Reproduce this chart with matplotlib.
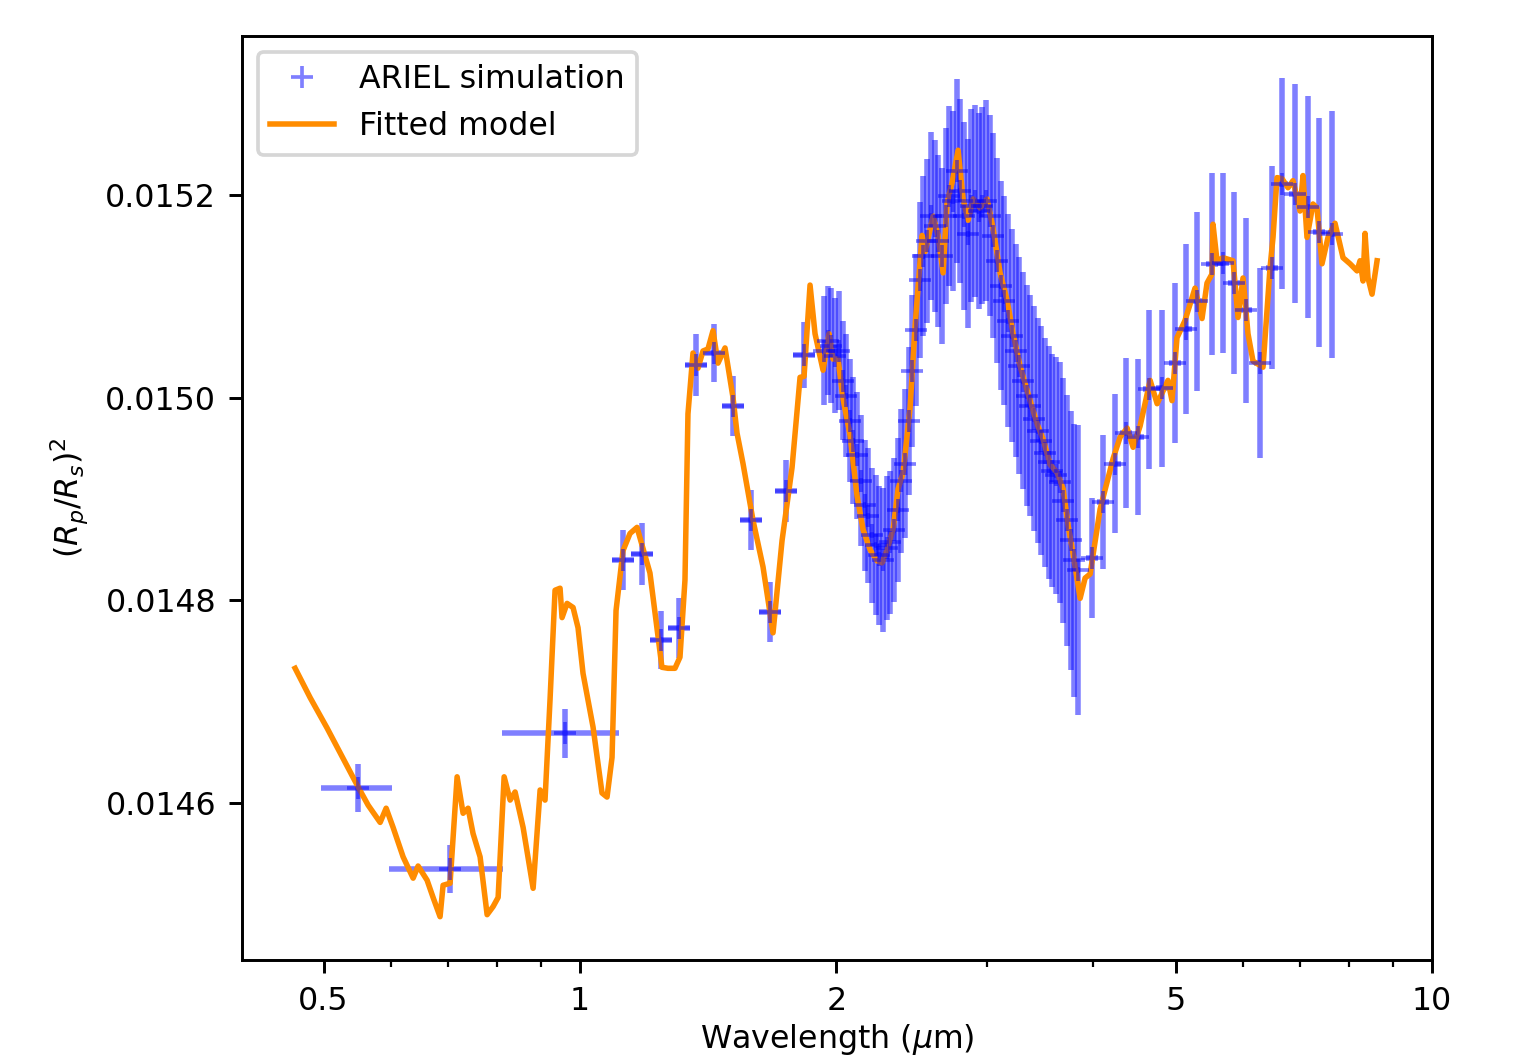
import numpy as np
import matplotlib
matplotlib.use('Agg')
import matplotlib.pyplot as plt
from matplotlib.lines import Line2D
from matplotlib.ticker import FixedLocator, FixedFormatter, NullFormatter, FormatStrFormatter

# ARIEL simulated spectrum, low resolution points (FGS + NIRSpec): wavelength, half bin width, depth, error
low_wl = [0.549, 0.704, 0.960, 1.123, 1.182, 1.245, 1.307, 1.368, 1.437, 1.512, 1.587, 1.671, 1.745, 1.832]
low_dwl = [0.052, 0.108, 0.150, 0.033, 0.035, 0.037, 0.038, 0.040, 0.042, 0.044, 0.047, 0.049, 0.051, 0.054]
low_depth = [0.014615, 0.014535, 0.014669, 0.014840, 0.014846, 0.014761, 0.014773, 0.015032,
             0.015044, 0.014992, 0.014879, 0.014789, 0.014908, 0.015042]
low_err = [2.4e-5, 2.4e-5, 2.4e-5, 2.96e-5, 3.05e-5, 2.86e-5, 2.96e-5, 3.05e-5,
           2.86e-5, 2.96e-5, 2.96e-5, 2.96e-5, 3.05e-5, 3.25e-5]

# AIRS channel 0 (R ~ 100)
R_ch0 = 100
ch0_wl = [1.934, 1.953, 1.973, 1.993, 2.013, 2.033, 2.053, 2.074, 2.094, 2.115,
          2.136, 2.158, 2.179, 2.201, 2.223, 2.245, 2.268, 2.290, 2.313, 2.336,
          2.360, 2.383, 2.407, 2.431, 2.455, 2.480, 2.505, 2.530, 2.555, 2.581,
          2.607, 2.633, 2.659, 2.686, 2.712, 2.740, 2.767, 2.795, 2.823, 2.851,
          2.879, 2.908, 2.937, 2.967, 2.996, 3.026, 3.057, 3.087, 3.118, 3.149,
          3.181, 3.213, 3.245, 3.277, 3.310, 3.343, 3.377, 3.410, 3.444, 3.479,
          3.514, 3.549, 3.584, 3.620, 3.656, 3.693, 3.730, 3.767, 3.805, 3.843]
ch0_depth = [0.0150463, 0.0150562, 0.0150512, 0.0150414, 0.0150463, 0.0150167, 0.0150020, 0.0149773, 0.0149576, 0.0149429,
             0.0149182, 0.0148936, 0.0148837, 0.0148640, 0.0148542, 0.0148443, 0.0148394, 0.0148512, 0.0148571, 0.0148690,
             0.0148887, 0.0149182, 0.0149350, 0.0149773, 0.0150266, 0.0150670, 0.0151163, 0.0151399, 0.0151547, 0.0151793,
             0.0151695, 0.0151547, 0.0151399, 0.0151793, 0.0151990, 0.0151941, 0.0152236, 0.0152039, 0.0151793, 0.0151616,
             0.0151892, 0.0151941, 0.0151842, 0.0151892, 0.0151941, 0.0151793, 0.0151596, 0.0151350, 0.0151103, 0.0150956,
             0.0150759, 0.0150611, 0.0150463, 0.0150315, 0.0150167, 0.0150020, 0.0149921, 0.0149793, 0.0149675, 0.0149576,
             0.0149458, 0.0149360, 0.0149281, 0.0149232, 0.0149163, 0.0148985, 0.0148788, 0.0148591, 0.0148394, 0.0148296]
ch0_err = [5.4e-5, 5.4e-5, 5.7e-5, 5.7e-5, 5.9e-5, 5.9e-5, 6.1e-5, 6.1e-5, 6.3e-5, 6.3e-5,
           6.5e-5, 6.5e-5, 6.7e-5, 6.7e-5, 6.9e-5, 6.9e-5, 7.1e-5, 7.1e-5, 7.1e-5, 7.1e-5,
           7.1e-5, 7.1e-5, 7.3e-5, 7.3e-5, 7.5e-5, 7.5e-5, 7.7e-5, 7.9e-5, 8.1e-5, 8.3e-5,
           8.5e-5, 8.5e-5, 8.7e-5, 8.7e-5, 8.9e-5, 8.9e-5, 9.1e-5, 9.1e-5, 9.3e-5, 9.3e-5,
           9.5e-5, 9.5e-5, 9.7e-5, 9.7e-5, 9.9e-5, 9.9e-5, 1.01e-4, 1.01e-4, 1.03e-4, 1.03e-4,
           1.05e-4, 1.05e-4, 1.05e-4, 1.07e-4, 1.07e-4, 1.09e-4, 1.09e-4, 1.11e-4, 1.11e-4, 1.13e-4,
           1.13e-4, 1.15e-4, 1.15e-4, 1.17e-4, 1.19e-4, 1.21e-4, 1.24e-4, 1.28e-4, 1.35e-4, 1.43e-4]

# AIRS channel 1 (R ~ 30)
R_ch1 = 30
ch1_wl = [3.990, 4.111, 4.246, 4.374, 4.518, 4.654, 4.822, 4.994, 5.144, 5.300, 5.519,
          5.685, 5.856, 6.049, 6.282, 6.489, 6.667, 6.906, 7.154, 7.370, 7.633]
ch1_depth = [0.014842, 0.014897, 0.014935, 0.014965, 0.014961, 0.015008, 0.015009, 0.015034, 0.015068, 0.015095, 0.015132,
             0.015133, 0.015113, 0.015086, 0.015034, 0.015128, 0.015211, 0.015201, 0.015188, 0.015163, 0.015161]
ch1_err = [5.9e-5, 6.6e-5, 6.9e-5, 7.4e-5, 7.7e-5, 7.8e-5, 7.7e-5, 7.9e-5, 8.4e-5, 8.8e-5, 9.0e-5,
           8.9e-5, 9.0e-5, 9.1e-5, 9.4e-5, 1.00e-4, 1.04e-4, 1.08e-4, 1.09e-4, 1.13e-4, 1.22e-4]

# fitted model spectrum
model_wl = [0.4630, 0.4822, 0.5048, 0.5271, 0.5489, 0.5640, 0.5826, 0.5921, 0.6034, 0.6199,
            0.6369, 0.6455, 0.6614, 0.6722, 0.6850, 0.6906, 0.7038, 0.7173, 0.7290, 0.7389,
            0.7489, 0.7633, 0.7779, 0.7906, 0.8014, 0.8145, 0.8278, 0.8390, 0.8574, 0.8809,
            0.8977, 0.9097, 0.9221, 0.9347, 0.9474, 0.9525, 0.9655, 0.9813, 0.9946, 1.0081,
            1.0358, 1.0612, 1.0757, 1.0903, 1.1022, 1.1231, 1.1446, 1.1665, 1.2080, 1.2478,
            1.2683, 1.2925, 1.3101, 1.3279, 1.3387, 1.3570, 1.3754, 1.3942, 1.4131, 1.4324,
            1.4519, 1.4797, 1.5120, 1.5285, 1.5534, 1.5960, 1.6398, 1.6847, 1.7263, 1.7736,
            1.8124, 1.8321, 1.8620, 1.8873, 1.9286, 1.9601, 1.9814, 2.0084, 2.0357, 2.0745,
            2.1142, 2.1488, 2.1899, 2.2318, 2.2622, 2.2930, 2.3305, 2.3623, 2.3944, 2.4401,
            2.4733, 2.5205, 2.5410, 2.5966, 2.6319, 2.6677, 2.6967, 2.7334, 2.7780, 2.8158,
            2.8541, 2.8929, 2.9482, 3.0046, 3.0537, 3.1121, 3.1715, 3.2234, 3.2850, 3.3478,
            3.4395, 3.4958, 3.5625, 3.6306, 3.6900, 3.7402, 3.7911, 3.8635, 3.9161, 3.9693,
            4.0781, 4.1672, 4.2240, 4.3047, 4.3869, 4.4586, 4.5438, 4.6684, 4.7576, 4.8991,
            4.9525, 5.0199, 5.1296, 5.2706, 5.3713, 5.4443, 5.5183, 5.5332, 5.5933, 5.6848,
            5.8406, 5.9200, 6.0005, 6.0821, 6.1648, 6.3338, 6.4549, 6.5074, 6.5782, 6.6675,
            6.7766, 6.8685, 6.9997, 7.0566, 7.1334, 7.2500, 7.3288, 7.4286, 7.5501, 7.6946,
            7.8628, 8.0136, 8.1666, 8.2330, 8.3000, 8.3450, 8.4129, 8.5044, 8.6205]
model_depth = [0.014733, 0.014704, 0.014674, 0.014644, 0.014616, 0.014598, 0.014581, 0.014595, 0.014576, 0.014547,
               0.014526, 0.014538, 0.014524, 0.014507, 0.014488, 0.014519, 0.014521, 0.014626, 0.014590, 0.014595,
               0.014570, 0.014547, 0.014490, 0.014498, 0.014507, 0.014626, 0.014603, 0.014611, 0.014576, 0.014516,
               0.014613, 0.014603, 0.014702, 0.014810, 0.014812, 0.014783, 0.014797, 0.014793, 0.014773, 0.014728,
               0.014675, 0.014610, 0.014606, 0.014645, 0.014790, 0.014849, 0.014866, 0.014872, 0.014827, 0.014734,
               0.014733, 0.014733, 0.014744, 0.014820, 0.014984, 0.015044, 0.015029, 0.015046, 0.015048, 0.015066,
               0.015034, 0.015049, 0.015000, 0.014965, 0.014935, 0.014879, 0.014833, 0.014768, 0.014859, 0.014931,
               0.015020, 0.015021, 0.015111, 0.015063, 0.015027, 0.015063, 0.015038, 0.015038, 0.014999, 0.014963,
               0.014903, 0.014870, 0.014850, 0.014839, 0.014837, 0.014850, 0.014870, 0.014910, 0.014926, 0.014990,
               0.015071, 0.015160, 0.015144, 0.015179, 0.015160, 0.015123, 0.015192, 0.015212, 0.015244, 0.015196,
               0.015175, 0.015196, 0.015187, 0.015196, 0.015167, 0.015123, 0.015096, 0.015063, 0.015031, 0.015007,
               0.014974, 0.014959, 0.014934, 0.014926, 0.014910, 0.014874, 0.014846, 0.014802, 0.014822, 0.014826,
               0.014890, 0.014921, 0.014940, 0.014961, 0.014970, 0.014951, 0.014972, 0.015017, 0.014994, 0.015017,
               0.014997, 0.015059, 0.015076, 0.015108, 0.015078, 0.015113, 0.015122, 0.015171, 0.015135, 0.015138,
               0.015135, 0.015079, 0.015118, 0.015063, 0.015036, 0.015030, 0.015128, 0.015158, 0.015217, 0.015216,
               0.015207, 0.015214, 0.015184, 0.015219, 0.015158, 0.015191, 0.015187, 0.015132, 0.015158, 0.015172,
               0.015138, 0.015132, 0.015125, 0.015135, 0.015115, 0.015162, 0.015118, 0.015102, 0.015135]

x_ticks = [0.5, 1, 2, 5, 10]
x_ticklabels = ['0.5', '1', '2', '5', '10']
y_ticks = [0.0146, 0.0148, 0.0150, 0.0152]

plt.rcParams['font.size'] = 8.6

# bin half widths for the AIRS channels from their resolving power
ch0_dwl = [w / (2 * R_ch0) for w in ch0_wl]
ch1_dwl = [w / (2 * R_ch1) for w in ch1_wl]

wl = np.array(low_wl + ch0_wl + ch1_wl)
dwl = np.array(low_dwl + ch0_dwl + ch1_dwl)
depth = np.array(low_depth + ch0_depth + ch1_depth)
err = np.array(low_err + ch0_err + ch1_err)

fig = plt.figure(figsize=(1515 / 265, 1061 / 265), dpi=265)
ax = fig.add_axes([0.1597, 0.0952, 0.7855, 0.8709])

ax.errorbar(wl, depth, xerr=dwl, yerr=err, fmt='+', color='blue', alpha=0.5)
ax.plot(model_wl, model_depth, color='darkorange')

ax.set_xscale('log')
ax.set_xlim(0.401, 10)
ax.set_ylim(0.0144453, 0.0153567)
ax.xaxis.set_major_locator(FixedLocator(x_ticks))
ax.xaxis.set_major_formatter(FixedFormatter(x_ticklabels))
ax.xaxis.set_minor_formatter(NullFormatter())
ax.set_yticks(y_ticks)
ax.yaxis.set_major_formatter(FormatStrFormatter('%.4f'))

ax.set_xlabel(r'Wavelength ($\mu$m)', labelpad=1.5)
ax.set_ylabel(r'$(R_p/R_s)^2$')

# legend: plain '+' for the simulation, line for the model
handles = [Line2D([], [], marker='+', linestyle='none', color='blue', alpha=0.5),
           Line2D([], [], color='darkorange')]
ax.legend(handles, ['ARIEL simulation', 'Fitted model'], loc='upper left')

fig.savefig('out.png', dpi=265)
